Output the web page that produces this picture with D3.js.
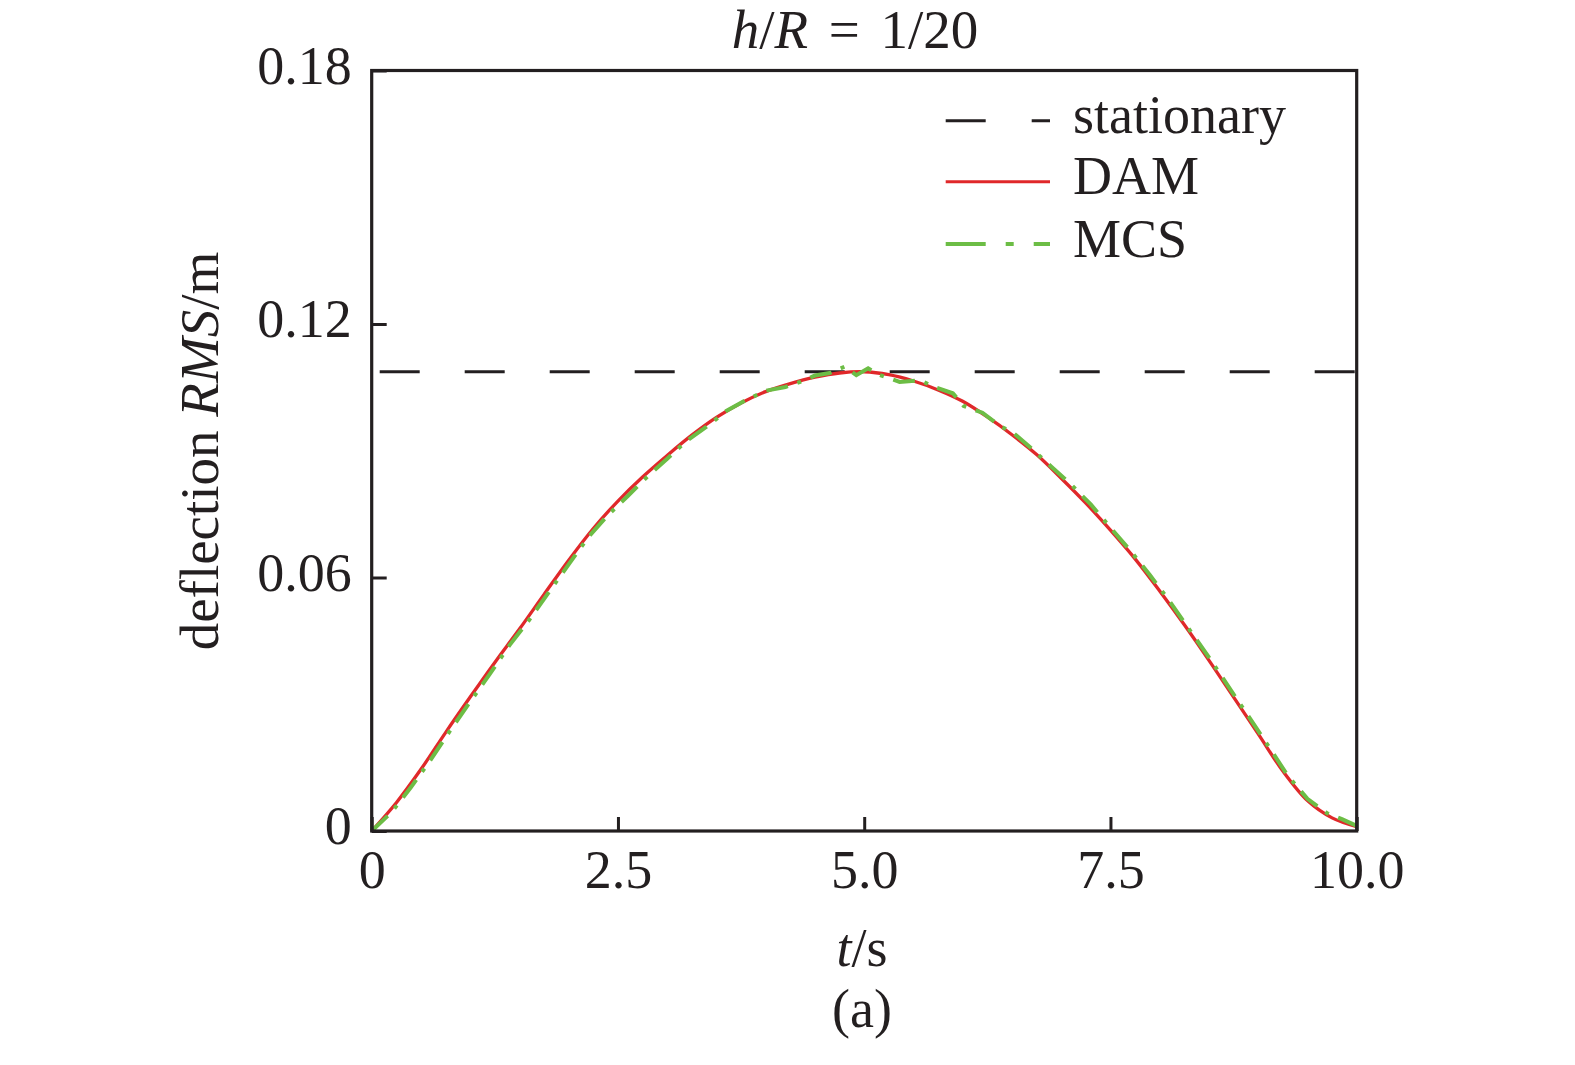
<!DOCTYPE html>
<html>
<head>
<meta charset="utf-8">
<script src="https://cdn.jsdelivr.net/npm/d3@7"></script>
<style>
  html, body { margin: 0; padding: 0; background: #fff; }
  svg { display: block; }
  text { font-family: "Liberation Serif", "Times New Roman", serif; fill: #231f20; }
</style>
</head>
<body>
<svg id="chart" width="1575" height="1065"></svg>
<script>
// ---- data ----
const xTicks = [0, 2.5, 5, 7.5, 10];
const xTickLabels = ["0", "2.5", "5.0", "7.5", "10.0"];
const yTicks = [0, 0.06, 0.12, 0.18];
const yTickLabels = ["0", "0.06", "0.12", "0.18"];

const stationaryValue = 0.1087;

const damT = [0, 0.25, 0.5, 0.75, 1.0, 1.25, 1.5, 1.75, 2.0, 2.25, 2.5, 2.75, 3.0, 3.25, 3.5, 3.75,
  4.0, 4.25, 4.5, 4.75, 5.0, 5.25, 5.5, 5.75, 6.0, 6.25, 6.5, 6.75, 7.0, 7.25, 7.5, 7.75,
  8.0, 8.25, 8.5, 8.75, 9.0, 9.25, 9.5, 9.75, 10.0];
const damV = [0, 0.0067, 0.0146, 0.0233, 0.0317, 0.0399, 0.0478, 0.0560, 0.0641, 0.0716, 0.0781, 0.0838,
  0.0889, 0.0937, 0.0979, 0.1013, 0.1040, 0.1059, 0.1074, 0.1084, 0.1087, 0.1080, 0.1065, 0.1044,
  0.1017, 0.0980, 0.0938, 0.0891, 0.0835, 0.0776, 0.0712, 0.0644, 0.0568, 0.0488, 0.0404, 0.0317,
  0.0230, 0.0142, 0.0072, 0.0031, 0.0010];

const mcsT = [0, 0.2, 0.4, 0.6, 0.8, 1.0, 1.2, 1.4, 1.6, 1.8, 2.0, 2.2, 2.4, 2.6, 2.8, 3.0, 3.2, 3.4,
  3.6, 3.8, 4.0, 4.2, 4.35, 4.5, 4.65, 4.8, 4.92, 5.04, 5.16, 5.36, 5.57, 5.7, 5.9, 6.01, 6.2, 6.38,
  6.5, 6.7, 6.9, 7.1, 7.3, 7.5, 7.7, 7.9, 8.1, 8.3, 8.5, 8.7, 8.9, 9.1, 9.3, 9.5, 9.7, 9.85, 10.0];
const mcsV = [0, 0.0044, 0.0104, 0.0169, 0.0239, 0.0306, 0.0372, 0.0440, 0.0500, 0.0566, 0.0631, 0.0696,
  0.0748, 0.0793, 0.0839, 0.0881, 0.0924, 0.0957, 0.0994, 0.1020, 0.1042, 0.1051, 0.1063, 0.1078,
  0.1084, 0.1099, 0.1079, 0.1095, 0.1079, 0.1063, 0.1067, 0.1052, 0.1036, 0.1006, 0.0990, 0.0958,
  0.0945, 0.0905, 0.0862, 0.0820, 0.0773, 0.0718, 0.0664, 0.0606, 0.0544, 0.0477, 0.0411, 0.0341,
  0.0272, 0.0202, 0.0131, 0.0076, 0.0042, 0.0028, 0.0012];

const legendLabels = ["stationary", "DAM", "MCS"];

// ---- drawing ----
const svg = d3.select("#chart");
const ink = "#231f20";
const red = "#e0282a";
const green = "#6cbd45";
const fs = 54;

const x = d3.scaleLinear().domain([0, 10]).range([371.7, 1356.7]);
const y = d3.scaleLinear().domain([0, 0.18]).range([831, 70.5]);

// series lines
const line = d3.line().x(d => x(d[0])).y(d => y(d[1]));

svg.append("path")
  .datum([[0, stationaryValue], [10, stationaryValue]])
  .attr("d", line)
  .attr("fill", "none").attr("stroke", ink).attr("stroke-width", 3)
  .attr("stroke-dasharray", "40,45").attr("stroke-dashoffset", 77);

svg.append("path")
  .datum(damT.map((t, i) => [t, damV[i]]))
  .attr("d", d3.line().x(d => x(d[0])).y(d => y(d[1])).curve(d3.curveCatmullRom.alpha(0.5)))
  .attr("fill", "none").attr("stroke", red).attr("stroke-width", 3.3);

svg.append("path")
  .datum(mcsT.map((t, i) => [t, mcsV[i]]))
  .attr("d", d3.line().x(d => x(d[0])).y(d => y(d[1])).curve(d3.curveLinear))
  .attr("fill", "none").attr("stroke", green).attr("stroke-width", 4)
  .attr("stroke-dasharray", "22,10,4,10");

// frame
svg.append("rect")
  .attr("x", x(0)).attr("y", y(0.18))
  .attr("width", x(10) - x(0)).attr("height", y(0) - y(0.18))
  .attr("fill", "none").attr("stroke", ink).attr("stroke-width", 3.2);

// axes
const xAxis = d3.axisBottom(x).tickValues(xTicks)
  .tickFormat((d, i) => xTickLabels[i]).tickSizeInner(-14).tickSizeOuter(0).tickPadding(19);
const gx = svg.append("g").attr("transform", `translate(0,${y(0)})`).call(xAxis);
gx.select(".domain").remove();
gx.selectAll(".tick line").attr("stroke", ink).attr("stroke-width", 3);
gx.selectAll(".tick text").attr("font-size", fs).attr("font-family", "Liberation Serif").attr("fill", ink);

const yAxis = d3.axisLeft(y).tickValues(yTicks)
  .tickFormat((d, i) => yTickLabels[i]).tickSizeInner(-15).tickSizeOuter(0).tickPadding(20);
const gy = svg.append("g").attr("transform", `translate(${x(0)},0)`).call(yAxis);
gy.select(".domain").remove();
gy.selectAll(".tick line").attr("stroke", ink).attr("stroke-width", 3);
gy.selectAll(".tick text").attr("font-size", fs).attr("font-family", "Liberation Serif")
  .attr("fill", ink).attr("dy", "0.24em");

// title
const title = svg.append("text").attr("x", 855).attr("y", 48)
  .attr("text-anchor", "middle").attr("font-size", 55).attr("word-spacing", 7);
title.append("tspan").attr("font-style", "italic").text("h");
title.append("tspan").text("/");
title.append("tspan").attr("font-style", "italic").text("R");
title.append("tspan").text(" = 1/20");

// x label
const xl = svg.append("text").attr("x", 862).attr("y", 966)
  .attr("text-anchor", "middle").attr("font-size", fs);
xl.append("tspan").attr("font-style", "italic").text("t");
xl.append("tspan").text("/s");

svg.append("text").attr("x", 862).attr("y", 1027)
  .attr("text-anchor", "middle").attr("font-size", fs).text("(a)");

// y label
const yl = svg.append("text")
  .attr("transform", "translate(218,451) rotate(-90)")
  .attr("text-anchor", "middle").attr("font-size", 55);
yl.append("tspan").text("deflection ");
yl.append("tspan").attr("font-style", "italic").text("RMS");
yl.append("tspan").text("/m");

// legend
const legY = [120.7, 181.7, 244];
const legStyles = [
  { stroke: ink, w: 3, dash: "40,46" },
  { stroke: red, w: 3, dash: null },
  { stroke: green, w: 4, dash: "40,20,8,20" }
];
const lg = svg.append("g");
legendLabels.forEach((lab, i) => {
  const l = lg.append("line")
    .attr("x1", 945.7).attr("x2", 1050).attr("y1", legY[i]).attr("y2", legY[i])
    .attr("stroke", legStyles[i].stroke).attr("stroke-width", legStyles[i].w);
  if (legStyles[i].dash) l.attr("stroke-dasharray", legStyles[i].dash);
  lg.append("text").attr("x", 1073).attr("y", legY[i] + 12.7)
    .attr("font-size", fs).text(lab);
});
</script>
</body>
</html>
